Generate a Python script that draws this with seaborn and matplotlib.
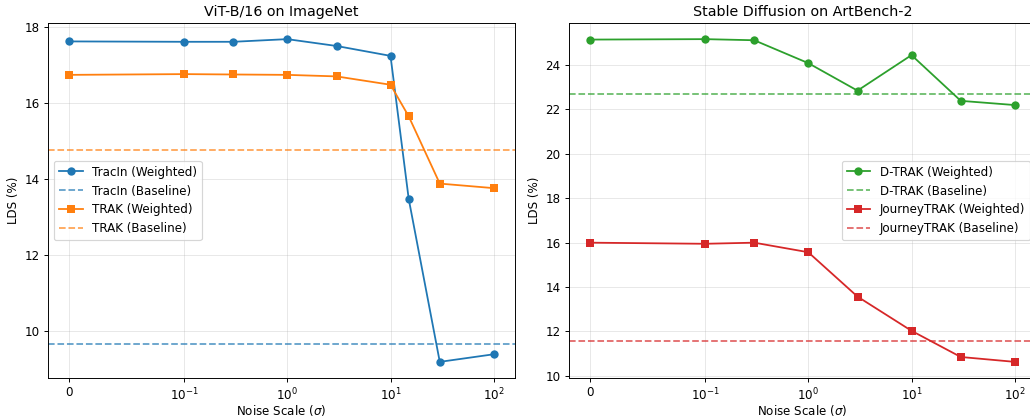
import matplotlib
matplotlib.use("Agg")
import matplotlib.pyplot as plt
import seaborn as sns

# noise scales
sigma_vit = [0, 0.1, 0.3, 1, 3, 10, 15, 30, 100]
sigma_sd = [0, 0.1, 0.3, 1, 3, 10, 30, 100]

# ViT-B/16 on ImageNet
tracin_weighted = [17.62, 17.61, 17.61, 17.68, 17.50, 17.24, 13.48, 9.19, 9.39]
trak_weighted = [16.74, 16.76, 16.75, 16.74, 16.70, 16.48, 15.65, 13.88, 13.76]
tracin_baseline = 9.67
trak_baseline = 14.77

# Stable Diffusion on ArtBench-2
dtrak_weighted = [25.15, 25.17, 25.12, 24.09, 22.85, 24.45, 22.39, 22.20]
journey_weighted = [16.00, 15.95, 16.00, 15.57, 13.57, 12.03, 10.85, 10.63]
dtrak_baseline = 22.72
journey_baseline = 11.56

DPI = 1030 / 12
fig, axes = plt.subplots(1, 2, figsize=(12, 418 / DPI), dpi=DPI)
# the right panel runs slightly past the right edge, as in the reference crop
axes[0].set_position([48 / 1030, 1 - 378 / 418, 467 / 1030, 355 / 418])
axes[1].set_position([569 / 1030, 1 - 378 / 418, 467 / 1030, 355 / 418])


def panel(ax, x, series, title, loc):
    ax.set_xscale("symlog", linthresh=0.1)
    for name, vals, base, color, marker in series:
        sns.lineplot(x=x, y=vals, ax=ax, color=color, marker=marker,
                     markersize=7, markeredgewidth=0, linewidth=1.5,
                     label=f"{name} (Weighted)")
        ax.axhline(base, color=color, linestyle="--", linewidth=1.5, alpha=0.7,
                   label=f"{name} (Baseline)")
    ax.set_xlabel(r"Noise Scale ($\sigma$)", labelpad=0)
    ax.set_ylabel("LDS (%)")
    ax.set_title(title, fontsize=12)
    ax.grid(True, alpha=0.3)
    ax.legend(loc=loc)


panel(axes[0], sigma_vit,
      [("TracIn", tracin_weighted, tracin_baseline, "#1f77b4", "o"),
       ("TRAK", trak_weighted, trak_baseline, "#ff7f0e", "s")],
      "ViT-B/16 on ImageNet", "center left")
panel(axes[1], sigma_sd,
      [("D-TRAK", dtrak_weighted, dtrak_baseline, "#2ca02c", "o"),
       ("JourneyTRAK", journey_weighted, journey_baseline, "#d62728", "s")],
      "Stable Diffusion on ArtBench-2", "center right")

plt.savefig("out.png", dpi=DPI)
